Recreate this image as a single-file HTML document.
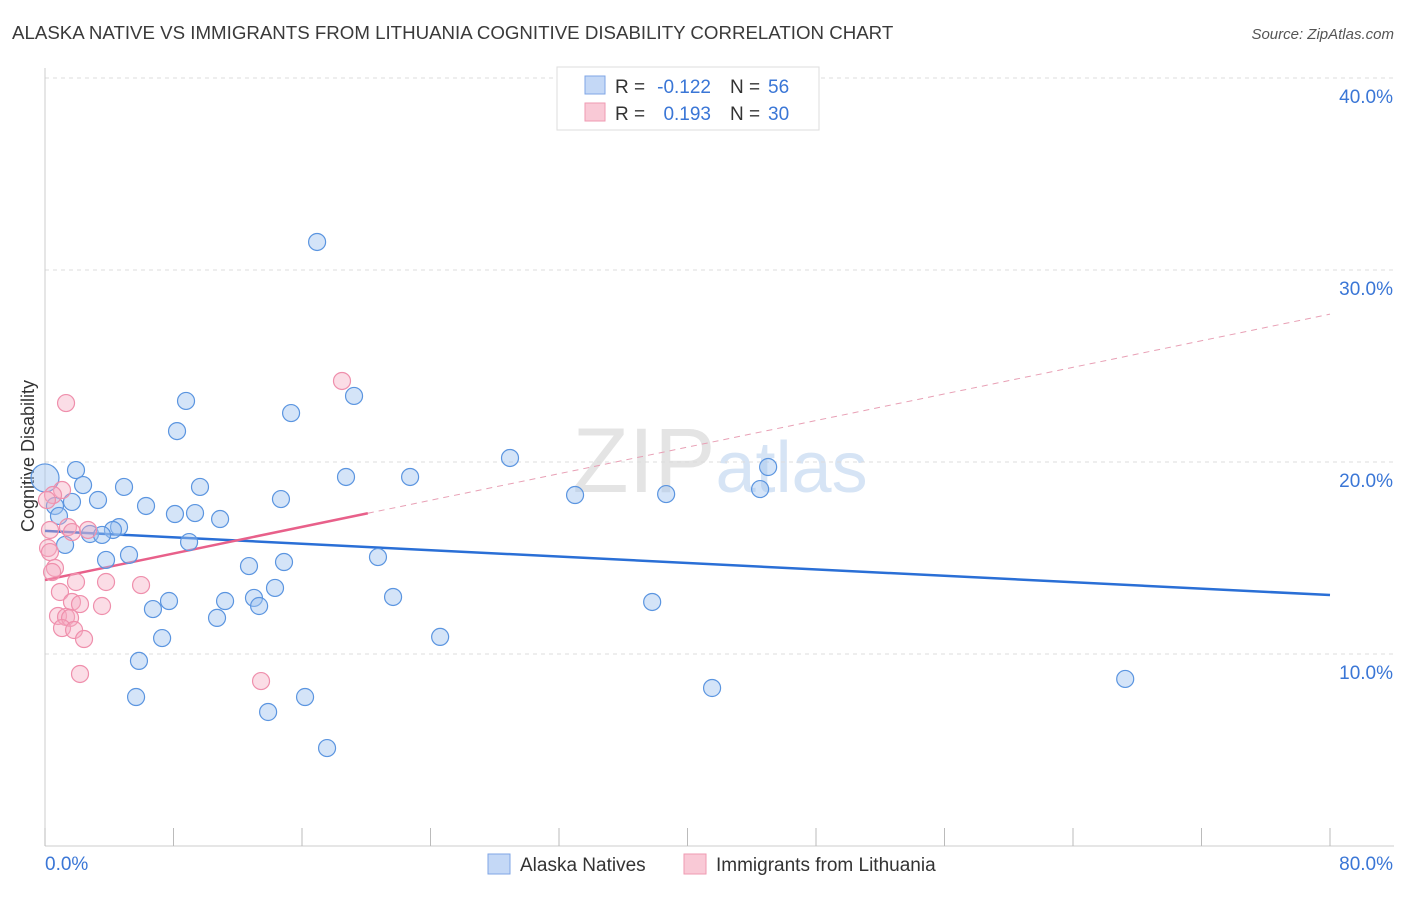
<!DOCTYPE html>
<html><head><meta charset="utf-8"><style>
body{margin:0;background:#fff;font-family:"Liberation Sans",sans-serif}
svg text{font-family:"Liberation Sans",sans-serif}
</style></head><body>
<svg id="chart" width="1406" height="892" xmlns="http://www.w3.org/2000/svg">
<text x="12" y="39" font-size="18.7" fill="#3a3a3a">ALASKA NATIVE VS IMMIGRANTS FROM LITHUANIA COGNITIVE DISABILITY CORRELATION CHART</text>
<text x="1394" y="39" font-size="15" fill="#555" text-anchor="end" font-style="italic">Source: ZipAtlas.com</text>
<text x="720" y="492" font-size="92" text-anchor="middle" fill="#e4e4e4" font-family="Liberation Serif">ZIP<tspan fill="#d6e4f5" font-family="Liberation Sans" font-size="72">atlas</tspan></text>
<g id="grid"></g>
<g id="axes"></g>
<text transform="translate(34,456) rotate(-90)" font-size="18" fill="#333" text-anchor="middle">Cognitive Disability</text>
<g id="lines"></g>
<g id="points"></g>
<g>
<rect x="557" y="67" width="262" height="63" fill="#fff" stroke="#ddd"/>
<rect x="585" y="76" width="20" height="18" fill="#c4d8f6" stroke="#7fa6e6"/>
<rect x="585" y="103" width="20" height="18" fill="#f9c9d6" stroke="#ef9ab2"/>
<text x="615" y="93" font-size="19" fill="#333">R =</text>
<text x="711" y="93" font-size="19" fill="#3a76d6" text-anchor="end">-0.122</text>
<text x="730" y="93" font-size="19" fill="#333">N =</text>
<text x="768" y="93" font-size="19" fill="#3a76d6">56</text>
<text x="615" y="120" font-size="19" fill="#333">R =</text>
<text x="711" y="120" font-size="19" fill="#3a76d6" text-anchor="end">0.193</text>
<text x="730" y="120" font-size="19" fill="#333">N =</text>
<text x="768" y="120" font-size="19" fill="#3a76d6">30</text>
</g>
<g>
<rect x="488" y="854" width="22" height="20" fill="#c4d8f6" stroke="#7fa6e6"/>
<text x="520" y="871" font-size="19" fill="#333">Alaska Natives</text>
<rect x="684" y="854" width="22" height="20" fill="#f9c9d6" stroke="#ef9ab2"/>
<text x="716" y="871" font-size="19" fill="#333">Immigrants from Lithuania</text>
</g>
</svg>
<script>
const yTicks=[10,20,30,40];
const yTickLabels=["10.0%","20.0%","30.0%","40.0%"];
const xLabels=["0.0%","80.0%"];
const blueX=[16.94,8.78,19.24,15.32,8.22,28.95,45.02,1.93,18.74,22.73,2.37,4.92,9.65,33.0,38.67,44.52,3.30,14.69,1.68,0.62,6.29,8.09,9.34,10.90,0.87,4.61,4.23,2.80,3.55,8.97,1.25,5.23,20.73,3.80,12.70,14.88,14.32,21.67,7.72,11.21,13.01,37.80,6.72,13.33,10.71,7.29,24.60,5.85,41.53,67.25,5.67,16.19,13.89,17.56];
const blueY=[31.46,23.18,23.44,22.55,21.61,20.21,19.74,19.58,19.22,19.22,18.80,18.70,18.70,18.28,18.33,18.59,18.02,18.07,17.92,17.71,17.71,17.29,17.34,17.03,17.19,16.61,16.46,16.25,16.20,15.83,15.68,15.16,15.05,14.90,14.58,14.79,13.44,12.97,12.76,12.76,12.92,12.71,12.34,12.50,11.88,10.83,10.89,9.64,8.23,8.70,7.76,7.76,6.98,5.10];
const pinkX=[18.49,1.31,1.06,0.50,0.12,1.43,2.68,1.68,0.31,0.19,0.31,0.62,0.44,1.93,3.80,5.98,0.93,1.68,2.18,3.55,0.81,1.31,1.56,1.06,1.81,2.43,2.18,13.45];
const pinkY=[24.22,23.07,18.54,18.28,18.02,16.61,16.46,16.35,16.46,15.52,15.31,14.48,14.27,13.75,13.75,13.59,13.23,12.71,12.60,12.50,11.98,11.93,11.88,11.35,11.25,10.78,8.96,8.59];
const blueTrend=[16.41,13.07];
const pinkTrend=[13.85,27.7];
const pinkSolidEnd=20.1;
const NS="http://www.w3.org/2000/svg";
const X=v=>45+v*(1285/80), Y=v=>846-v*19.2;
function mk(tag,attrs,parent){const e=document.createElementNS(NS,tag);for(const k in attrs)e.setAttribute(k,attrs[k]);document.getElementById(parent).appendChild(e);return e;}
yTicks.forEach((t,i)=>{
 const l=mk('line',{x1:45,x2:1394,y1:Y(t),y2:Y(t),stroke:'#ddd','stroke-dasharray':'4,4'},'grid');
 
 
 const tx=mk('text',{x:1393,y:Y(t)+25,'font-size':19,fill:'#3a76d6','text-anchor':'end'},'grid');
 tx.textContent=yTickLabels[i];
 
 
});
const ax=mk('line',{x1:45,x2:1394,y1:846,y2:846,stroke:'#ccc'},'axes');


const ay=mk('line',{x1:45,x2:45,y1:68,y2:846,stroke:'#ccc'},'axes');


for(let i=0;i<=10;i++){const t=mk('line',{x1:X(i*8),x2:X(i*8),y1:828,y2:846,stroke:'#bbb'},'axes');
 
 }
xLabels.forEach((s,i)=>{const t=mk('text',{x:i?1393:45,y:870,'font-size':19,fill:'#3a76d6','text-anchor':i?'end':'start'},'axes');t.textContent=s;
 
 });
const bl=mk('line',{x1:X(0),y1:Y(blueTrend[0]),x2:X(80),y2:Y(blueTrend[1]),stroke:'#2a6fd6','stroke-width':2.5},'lines');


const pm=(pinkTrend[1]-pinkTrend[0])/80;
const ps=mk('line',{x1:X(0),y1:Y(pinkTrend[0]),x2:X(pinkSolidEnd),y2:Y(pinkTrend[0]+pm*pinkSolidEnd),stroke:'#e8608a','stroke-width':2.5},'lines');


const pd=mk('line',{x1:X(pinkSolidEnd),y1:Y(pinkTrend[0]+pm*pinkSolidEnd),x2:X(80),y2:Y(pinkTrend[1]),stroke:'#e8a0b5','stroke-width':1,'stroke-dasharray':'6,5'},'lines');


blueX.forEach((x,i)=>{const c=mk('circle',{cx:X(x),cy:Y(blueY[i]),r:8.5,fill:'rgba(160,196,240,0.45)',stroke:'#5b95e0','stroke-width':1.2},'points');
 
 });
const big=mk('circle',{cx:X(0),cy:Y(19.17),r:14,fill:'rgba(160,196,240,0.45)',stroke:'#5b95e0','stroke-width':1.2},'points');


pinkX.forEach((x,i)=>{const c=mk('circle',{cx:X(x),cy:Y(pinkY[i]),r:8.5,fill:'rgba(244,170,192,0.4)',stroke:'#ef8fac','stroke-width':1.2},'points');
 
 });
</script>
</body></html>
